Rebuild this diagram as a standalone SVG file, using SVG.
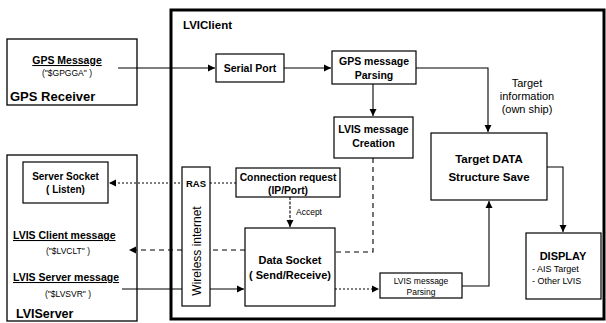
<svg xmlns="http://www.w3.org/2000/svg" width="606" height="323" viewBox="0 0 606 323">
<defs>
<marker id="ah" markerWidth="8" markerHeight="8" refX="7" refY="4" orient="auto" markerUnits="userSpaceOnUse">
<path d="M0,0.5 L7,4 L0,7.5 Z" fill="#000"/>
</marker>
<style>
.box{fill:#fff;stroke:#000;stroke-width:1.2}
.big{fill:none;stroke:#000;stroke-width:3}
.cont{fill:#fff;stroke:#000;stroke-width:1.3}
.b{font-family:"Liberation Sans",Arial,sans-serif;font-weight:bold;fill:#000}
.r{font-family:"Liberation Sans",Arial,sans-serif;fill:#000}
.c{stroke:#000;stroke-width:1.1;fill:none}
.a{marker-end:url(#ah)}
.dash{stroke-dasharray:5,4}
.dot{stroke-dasharray:2,2}
.fine{stroke-dasharray:3,1.5}
</style>
</defs>
<rect width="606" height="323" fill="#fff"/>

<g id="lviclient">
<rect class="big" x="171" y="10" width="433" height="309"/>
<text class="b" x="183" y="29" font-size="11.5">LVIClient</text>
</g>

<g id="gps-receiver">
<rect class="cont" x="7" y="39" width="130" height="66"/>
<text class="b" x="67" y="64" font-size="10.5" text-anchor="middle" text-decoration="underline">GPS Message</text>
<text class="r" x="67" y="76" font-size="8.5" text-anchor="middle">("$GPGGA" )</text>
<text class="b" x="10" y="101" font-size="13">GPS Receiver</text>
</g>

<g id="lviserver">
<rect class="cont" x="7" y="155" width="130" height="166"/>
<text class="b" x="13" y="239" font-size="10.5" text-decoration="underline">LVIS Client message</text>
<text class="r" x="68" y="254" font-size="8.5" text-anchor="middle">("$LVCLT" )</text>
<text class="b" x="13" y="281" font-size="10.5" text-decoration="underline">LVIS Server message</text>
<text class="r" x="68" y="297" font-size="8.5" text-anchor="middle">("$LVSVR" )</text>
<text class="b" x="16" y="318" font-size="12.5">LVIServer</text>
</g>

<g id="connectors">
<path class="c a" d="M118,68 H215"/>
<path class="c a" d="M284,68 H331"/>
<path class="c a" d="M373,84 V116"/>
<path class="c a" d="M416,68 H488 V132"/>
<path class="c a" d="M547,167 H563 V232"/>
<path class="c a" d="M462,286 H489 V201"/>
<path class="c a dot" d="M335,289 H379"/>
<path class="c a fine" d="M290,197 V227"/>
<path class="c dash" d="M373,158 V252 H335"/>
<path class="c a dash" d="M245,250 H129"/>
<path class="c a" d="M122,289 H244"/>
<path class="c a dot" d="M236,183 H109"/>
</g>

<g id="server-socket">
<rect class="box" x="23" y="162" width="85" height="41"/>
<text class="b" x="65.5" y="180" font-size="10" text-anchor="middle">Server Socket</text>
<text class="b" x="65.5" y="193" font-size="10" text-anchor="middle">( Listen)</text>
</g>

<g id="wireless">
<rect class="box" x="182" y="167" width="28" height="139"/>
<text class="b" x="196" y="187" font-size="9.5" text-anchor="middle">RAS</text>
<text class="r" x="0" y="0" font-size="12" text-anchor="middle" transform="translate(200.5,251) rotate(-90)">Wireless internet</text>
</g>

<g id="serial-port">
<rect class="box" x="216" y="54" width="68" height="28"/>
<text class="b" x="250" y="72" font-size="10.5" text-anchor="middle">Serial Port</text>
</g>

<g id="gps-parsing">
<rect class="box" x="332" y="51" width="84" height="33"/>
<text class="b" x="374" y="65" font-size="10.5" text-anchor="middle">GPS message</text>
<text class="b" x="374" y="79" font-size="10.5" text-anchor="middle">Parsing</text>
</g>

<g id="lvis-creation">
<rect class="box" x="334" y="117" width="79" height="41"/>
<text class="b" x="373.5" y="133" font-size="10.5" text-anchor="middle">LVIS message</text>
<text class="b" x="373.5" y="147" font-size="10.5" text-anchor="middle">Creation</text>
</g>

<g id="target-label">
<text class="r" x="527" y="87" font-size="11" text-anchor="middle">Target</text>
<text class="r" x="527" y="100" font-size="11" text-anchor="middle">information</text>
<text class="r" x="527" y="113" font-size="11" text-anchor="middle">(own ship)</text>
</g>

<g id="target-data">
<rect class="box" x="431" y="133" width="116" height="67"/>
<text class="b" x="489" y="163" font-size="11.5" text-anchor="middle">Target DATA</text>
<text class="b" x="489" y="181" font-size="11.5" text-anchor="middle">Structure Save</text>
</g>

<g id="connection-request">
<rect class="box" x="236" y="168" width="104" height="29"/>
<text class="b" x="288" y="181" font-size="10.3" text-anchor="middle">Connection request</text>
<text class="b" x="288" y="194" font-size="10.3" text-anchor="middle">(IP/Port)</text>
</g>

<text class="r" x="296" y="215" font-size="8.5">Accept</text>

<g id="data-socket">
<rect class="box" x="245" y="228" width="90" height="78"/>
<text class="b" x="290" y="264" font-size="11" text-anchor="middle">Data Socket</text>
<text class="b" x="290" y="279" font-size="11" text-anchor="middle">( Send/Receive)</text>
</g>

<g id="lvis-parsing">
<rect class="box" x="380" y="273" width="82" height="25"/>
<text class="r" x="421" y="284" font-size="8.5" text-anchor="middle">LVIS message</text>
<text class="r" x="421" y="295" font-size="8.5" text-anchor="middle">Parsing</text>
</g>

<g id="display">
<rect class="box" x="526" y="233" width="75" height="66"/>
<text class="b" x="563" y="260" font-size="11" text-anchor="middle">DISPLAY</text>
<text class="r" x="532" y="272" font-size="9">- AIS Target</text>
<text class="r" x="532" y="284" font-size="9">- Other LVIS</text>
</g>
</svg>
